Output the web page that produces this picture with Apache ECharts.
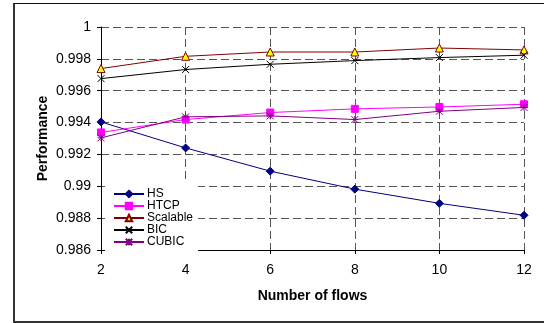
<!DOCTYPE html>
<html>
<head>
<meta charset="utf-8">
<script src="https://cdn.jsdelivr.net/npm/echarts@6/dist/echarts.min.js"></script>
<style>
  html, body { margin: 0; padding: 0; background: #fff; }
  #frame { position: absolute; left: 13px; top: 3px; width: 540px; height: 317px;
           border-left: 2px solid #333; border-top: 1px solid #111; border-bottom: 2px solid #333; }
  #chart { position: absolute; left: 0; top: 0; width: 544px; height: 323px; }
</style>
</head>
<body>
<div id="frame"></div>
<div id="chart"></div>
<script>
// number of flows
var flows = [2, 4, 6, 8, 10, 12];
var hs       = [0.99404, 0.99241, 0.99095, 0.98982, 0.98893, 0.98818];
var htcp     = [0.99338, 0.99419, 0.99463, 0.99486, 0.99498, 0.99515];
var scalable = [0.99739, 0.99816, 0.99843, 0.99843, 0.99868, 0.99856];
var bic      = [0.99676, 0.99733, 0.99766, 0.99789, 0.99808, 0.99823];
var cubic    = [0.99304, 0.99436, 0.99442, 0.99419, 0.99471, 0.99495];

var crossPath = 'path://M0,0L10,10M10,0L0,10';
var starPath = 'path://M0,0L10,10M10,0L0,10M5,0L5,10M0,5L10,5';

function pairs(values) {
  return flows.map(function (f, i) { return [f, values[i]]; });
}

function line(name, values, color, symbol, size, fill, border) {
  return {
    name: name,
    type: 'line',
    data: pairs(values),
    symbol: symbol,
    symbolSize: size,
    showAllSymbol: true,
    lineStyle: {color: color, width: 1},
    itemStyle: {color: fill, borderColor: border, borderWidth: 1},
    emphasis: {disabled: true},
    animation: false
  };
}

var dashed = {show: true, lineStyle: {color: '#555', type: [8, 4], width: 1}};

echarts.init(document.getElementById('chart')).setOption({
  textStyle: {fontFamily: 'Liberation Sans, Arial, sans-serif'},
  grid: {left: 101, right: 20, top: 27, bottom: 73},
  legend: {
    orient: 'vertical',
    left: 105,
    top: 182,
    itemWidth: 30,
    itemHeight: 8,
    itemGap: 0,
    backgroundColor: '#fff',
    padding: [6, 5, 7, 8],
    textStyle: {fontSize: 12, lineHeight: 11, color: '#000', padding: [0, 0, 0, -2]},
    data: ['HS', 'HTCP', 'Scalable', 'BIC', 'CUBIC']
  },
  xAxis: {
    type: 'value',
    min: 2,
    max: 12,
    interval: 2,
    name: 'Number of flows',
    nameLocation: 'middle',
    nameGap: 39,
    nameMoveOverlap: false,
    nameTextStyle: {fontWeight: 'bold', fontSize: 14, color: '#000'},
    axisLine: {lineStyle: {color: '#000', width: 1}},
    axisTick: {show: true, length: 4, lineStyle: {color: '#000'}},
    axisLabel: {color: '#000', fontSize: 14, margin: 13},
    splitLine: dashed
  },
  yAxis: {
    type: 'value',
    min: 0.986,
    max: 1,
    interval: 0.002,
    name: 'Performance',
    nameLocation: 'middle',
    nameGap: 51,
    nameMoveOverlap: false,
    nameTextStyle: {fontWeight: 'bold', fontSize: 14, color: '#000'},
    axisLine: {show: true, lineStyle: {color: '#000', width: 1}},
    axisTick: {show: true, length: 4, lineStyle: {color: '#000'}},
    axisLabel: {color: '#000', fontSize: 14, margin: 10,
      formatter: function (v) { return String(parseFloat(v.toFixed(3))); }},
    splitLine: dashed
  },
  series: [
    line('HS', hs, '#000080', 'diamond', 8, '#000080', '#000080'),
    line('HTCP', htcp, '#ff00ff', 'rect', 7, '#ff00ff', '#ff00ff'),
    line('Scalable', scalable, '#800000', 'triangle', 8, '#ffff00', '#800000'),
    line('BIC', bic, '#000000', crossPath, 7, 'none', '#000000'),
    line('CUBIC', cubic, '#800080', starPath, 7, 'none', '#800080')
  ]
});
</script>
</body>
</html>
